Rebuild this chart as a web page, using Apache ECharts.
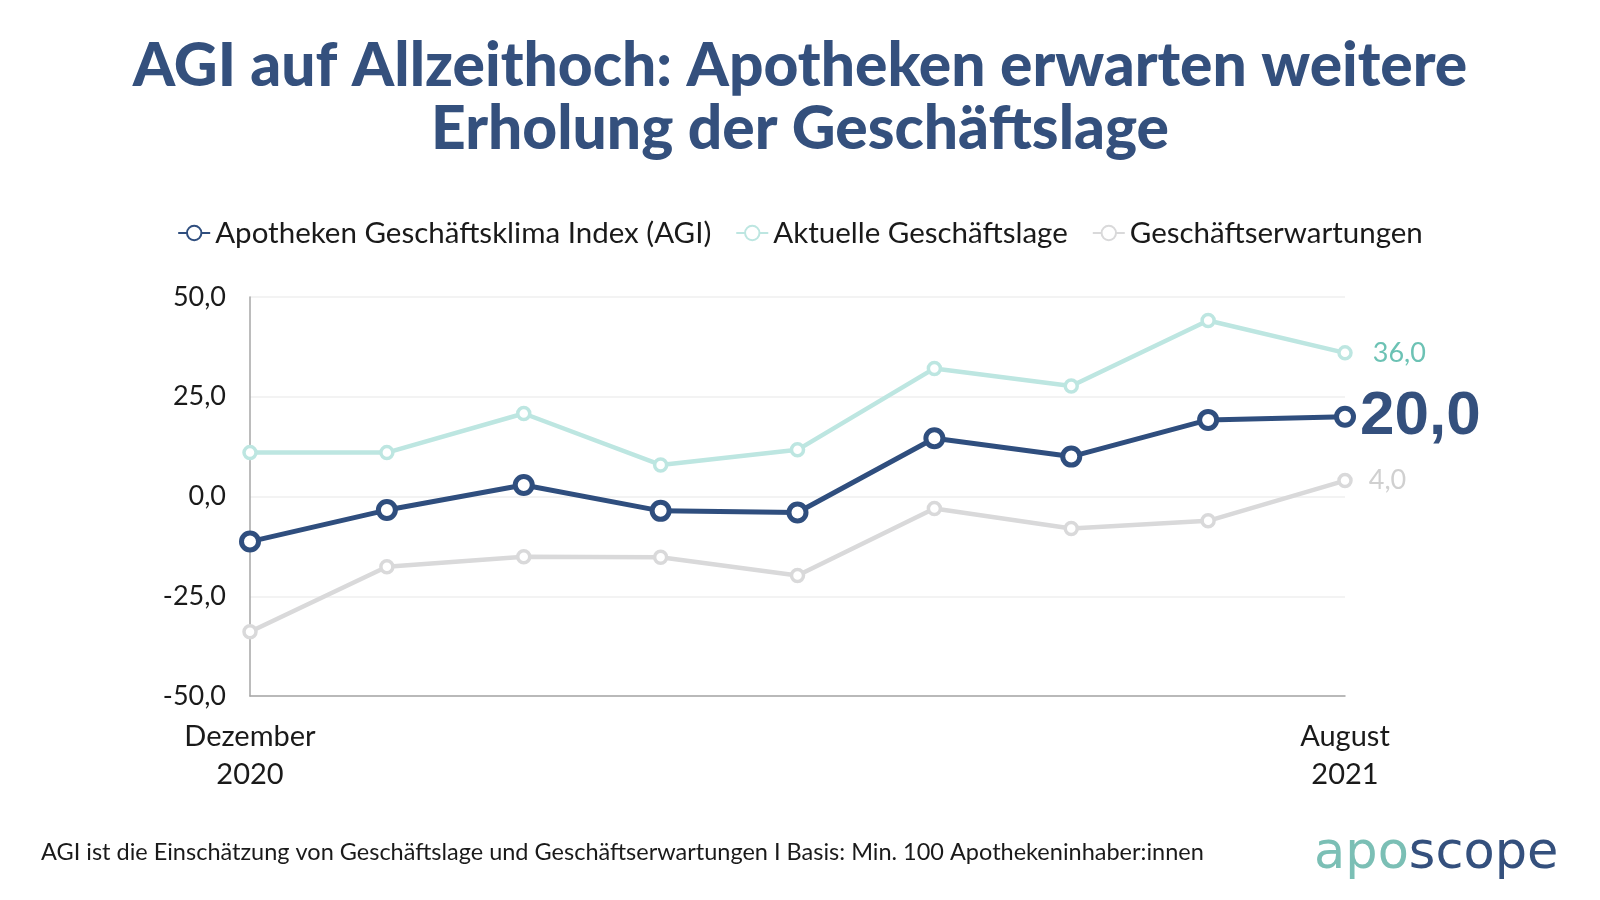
<!DOCTYPE html>
<html><head><meta charset="utf-8">
<script src="https://cdn.jsdelivr.net/npm/echarts@6/dist/echarts.min.js"></script>
<style>html,body{margin:0;padding:0;background:#fff}#c{width:1600px;height:900px}</style>
</head><body><div id="c"></div>
<script>
const categories = ['Dezember\n2020','Januar 2021','Februar 2021','März 2021','April 2021','Mai 2021','Juni 2021','Juli 2021','August\n2021'];
const agi = [-11.3, -3.4, 2.9, -3.6, -4.0, 14.6, 10.0, 19.2, 20.0];
const lage = [11.0, 11.0, 20.8, 7.9, 11.7, 32.1, 27.7, 44.1, 36.0];
const erwartung = [-33.9, -17.6, -15.1, -15.2, -19.8, -3.0, -8.0, -6.1, 4.0];
const yTicks = [-50, -25, 0, 25, 50];
const seriesNames = ['Apotheken Geschäftsklima Index (AGI)', 'Aktuelle Geschäftslage', 'Geschäftserwartungen'];

const fmt = v => v.toFixed(1).replace('.', ',');
const last = categories.length - 1;
const chart = echarts.init(document.getElementById('c'));
const font = 'Lato, "Noto Sans", sans-serif';

function lastLabel(style) {
  return Object.assign({
    show: true, position: 'right', distance: 16,
    formatter: p => p.dataIndex === last ? fmt(p.value) : ''
  }, style);
}

chart.setOption({
  backgroundColor: '#fff',
  title: {
    text: 'AGI auf Allzeithoch: Apotheken erwarten weitere\nErholung der Geschäftslage',
    left: 'center', top: 30,
    textStyle: { fontFamily: font, fontWeight: 900, fontSize: 60.5, lineHeight: 63, color: '#34507d' }
  },
  legend: {
    top: 213, left: 'center',
    itemWidth: 32, itemHeight: 18, itemGap: 24,
    textStyle: { fontFamily: font, fontSize: 29.5, color: '#1a1a1a' },
    data: seriesNames
  },
  grid: { left: 250, right: 255, top: 297, bottom: 204 },
  xAxis: {
    type: 'category', data: categories, boundaryGap: false,
    axisLine: { onZero: false, lineStyle: { color: '#a6a6a6', width: 1.5 } },
    axisTick: { show: false },
    axisLabel: {
      interval: 0, margin: 22, fontFamily: font, fontSize: 29, lineHeight: 38, color: '#1a1a1a',
      formatter: (v, i) => (i === 0 || i === last) ? v : ''
    }
  },
  yAxis: {
    type: 'value', min: yTicks[0], max: yTicks[yTicks.length - 1], interval: 25,
    axisLine: { show: true, lineStyle: { color: '#a6a6a6', width: 1.5 } },
    axisTick: { show: false },
    splitLine: { lineStyle: { color: '#efefef', width: 1.5 } },
    axisLabel: { margin: 24, fontFamily: font, fontSize: 27, color: '#1a1a1a', formatter: fmt }
  },
  series: [
    {
      name: seriesNames[2], type: 'line', data: erwartung, z: 2,
      symbol: 'circle', symbolSize: 12,
      lineStyle: { color: '#d9d9da', width: 4.5 },
      itemStyle: { color: '#ffffff', borderColor: '#d9d9da', borderWidth: 3.5 },
      label: lastLabel({ fontFamily: font, fontSize: 27, color: '#d0d0d0' })
    },
    {
      name: seriesNames[1], type: 'line', data: lage, z: 3,
      symbol: 'circle', symbolSize: 12,
      lineStyle: { color: '#bde6e1', width: 4.5 },
      itemStyle: { color: '#ffffff', borderColor: '#bde6e1', borderWidth: 3.5 },
      label: lastLabel({ fontFamily: font, fontSize: 27, color: '#6cc2b4', distance: 20 })
    },
    {
      name: seriesNames[0], type: 'line', data: agi, z: 4,
      symbol: 'circle', symbolSize: 17,
      lineStyle: { color: '#2f4e7e', width: 5 },
      itemStyle: { color: '#ffffff', borderColor: '#2f4e7e', borderWidth: 5 },
      label: lastLabel({ fontFamily: '"Liberation Sans", Arial, sans-serif', fontWeight: 'bold', fontSize: 62, color: '#34507d', distance: 4 })
    }
  ],
  graphic: [
    {
      type: 'text', left: 41, top: 840,
      style: { text: 'AGI ist die Einschätzung von Geschäftslage und Geschäftserwartungen I Basis: Min. 100 Apothekeninhaber:innen',
        font: '23.5px ' + font, fill: '#1a1a1a' }
    },
    {
      type: 'text', left: 1314, top: 829,
      style: {
        text: '{a|apo}{b|scope}',
        rich: {
          a: { fontFamily: '"DejaVu Sans", sans-serif', fontSize: 51, fill: '#7bbfb5', color: '#7bbfb5' },
          b: { fontFamily: '"DejaVu Sans", sans-serif', fontSize: 51, fill: '#34507d', color: '#34507d' }
        }
      }
    }
  ]
});
</script></body></html>
